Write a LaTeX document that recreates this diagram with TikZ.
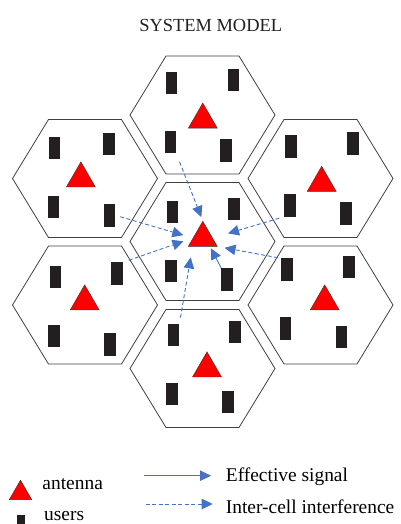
\documentclass[tikz,border=0pt]{standalone}
\usepackage{fontspec}
\setmainfont{Liberation Serif}
\usetikzlibrary{shapes.geometric,arrows.meta}
\definecolor{arrowblue}{RGB}{68,114,196}
\definecolor{userblack}{RGB}{35,31,32}
\definecolor{cellgray}{RGB}{64,64,64}
\tikzset{
	cellline/.style={draw=cellgray, line width=0.8pt},
	cell/.pic={\path[cellline] (-72.5,0) -- (-36.5,-59) -- (36.5,-59) -- (72.5,0)
		-- (36.5,59) -- (-36.5,59) -- cycle;},
	antenna/.style={regular polygon, regular polygon sides=3, fill=red, 
		draw=black!80, line width=0.4pt, inner sep=0pt, minimum size=33.5bp},
	user/.style={rectangle, fill=userblack, minimum width=11.5bp, 
		minimum height=22.5bp, inner sep=0pt},
	signal/.style={-{Triangle[length=11bp,width=10.5bp]}, draw=arrowblue, 
		line width=0.9pt},
	interf/.style={signal, dash pattern=on 4bp off 2.5bp},
	legtext/.style={anchor=base west, inner sep=0pt, 
		font=\fontsize{19.5}{23}\selectfont}
}

\begin{document}
\begin{tikzpicture}[x=1bp,y=-1bp]
			\useasboundingbox (0,0) rectangle (400,524);
			\node[anchor=base, inner sep=0pt, text=userblack, 
				font=\fontsize{18.5}{22}\selectfont] (title) at (210.7,31.7) {SYSTEM MODEL};
			
			% cells
			\pic at (202.5,115) {cell};
			\pic at (85,178.5) {cell};
			\pic at (320.5,178.5) {cell};
			\pic at (202.5,241.5) {cell};
			\pic at (85,305) {cell};
			\pic at (320.5,305) {cell};
			\pic at (202.5,368.5) {cell};
			
			% antennas
			\node[antenna] (antt) at (202.8,119.8) {};
			\node[antenna] (antul) at (80.9,178.6) {};
			\node[antenna] (antur) at (321.7,183) {};
			\node[antenna] (antc) at (202.8,238) {};
			\node[antenna] (antll) at (84.7,301.6) {};
			\node[antenna] (antlr) at (324.7,301.6) {};
			\node[antenna] (antb) at (207,368.6) {};
			
			% users
			\node[user] (t1) at (171.3,82.8) {};
			\node[user] (t2) at (233.3,80) {};
			\node[user] (t3) at (170.3,142) {};
			\node[user] (t4) at (226.2,150.3) {};
			
			\node[user] (ul1) at (54.7,147.8) {};
			\node[user] (ul2) at (109.2,143.8) {};
			\node[user] (ul3) at (53.5,206.8) {};
			\node[user] (ul4) at (109.5,215.3) {};
			
			\node[user] (ur1) at (291.2,146.3) {};
			\node[user] (ur2) at (353.2,143.5) {};
			\node[user] (ur3) at (290,205.3) {};
			\node[user] (ur4) at (345.8,213.7) {};
			
			\node[user] (c1) at (172.3,212.2) {};
			\node[user] (c2) at (234.2,209) {};
			\node[user] (c3) at (171.2,271) {};
			\node[user] (c4) at (227.2,279.5) {};
			
			\node[user] (ll1) at (55.5,277) {};
			\node[user] (ll2) at (117.2,273.7) {};
			\node[user] (ll3) at (54.2,336) {};
			\node[user] (ll4) at (110.2,344.3) {};
			
			\node[user] (lr1) at (286.8,269.7) {};
			\node[user] (lr2) at (348.8,266.8) {};
			\node[user] (lr3) at (285.5,328.5) {};
			\node[user] (lr4) at (341.5,336.8) {};
			
			\node[user] (b1) at (173.5,335) {};
			\node[user] (b2) at (235.2,332) {};
			\node[user] (b3) at (172.2,393.8) {};
			\node[user] (b4) at (227.8,402.2) {};
			
			% signals to the centre antenna
			\draw[interf, shorten <=9bp, shorten >=4bp] (t3.south east) -- (antc.north);
			\draw[interf, shorten <=5bp, shorten >=10bp] (ul4.east) -- (antc.west);
			\draw[interf, shorten <=6bp, shorten >=10bp] (ll2.north east) -- (antc.west);
			\draw[interf, shorten <=5bp, shorten >=16bp] (ur3.south west) -- (antc.east);
			\draw[interf, shorten <=3bp, shorten >=7bp] (lr1.north west) -- (antc.corner 3);
			\draw[interf, shorten <=6bp, shorten >=11bp] (b1.north east) -- (antc.220);
			\draw[signal, shorten >=2bp] (c4.north west) -- (antc.310);
			
			% legend
			\node[antenna, minimum size=25.9bp] (legant) at (20.5,493.1) {};
			\node[legtext] (antlabel) at (42.3,489.3) {antenna};
			\node[user, minimum width=8.3bp, minimum height=8.3bp] (leguser) at (20.8,519.5) {};
			\node[legtext] (userlabel) at (44,520.5) {users};
			
			\coordinate (sig0) at (144,475.7);
			\coordinate (sig1) at (211,475.7);
			\draw[signal] (sig0) -- (sig1);
			\node[legtext] (siglabel) at (225.7,481.7) {Effective signal};
			
			\coordinate (int0) at (145.7,504);
			\coordinate (int1) at (212.7,504);
			\draw[interf] (int0) -- (int1);
			\node[legtext] (intlabel) at (225.7,513.3) {Inter-cell interference};
		\end{tikzpicture}
\end{document}
